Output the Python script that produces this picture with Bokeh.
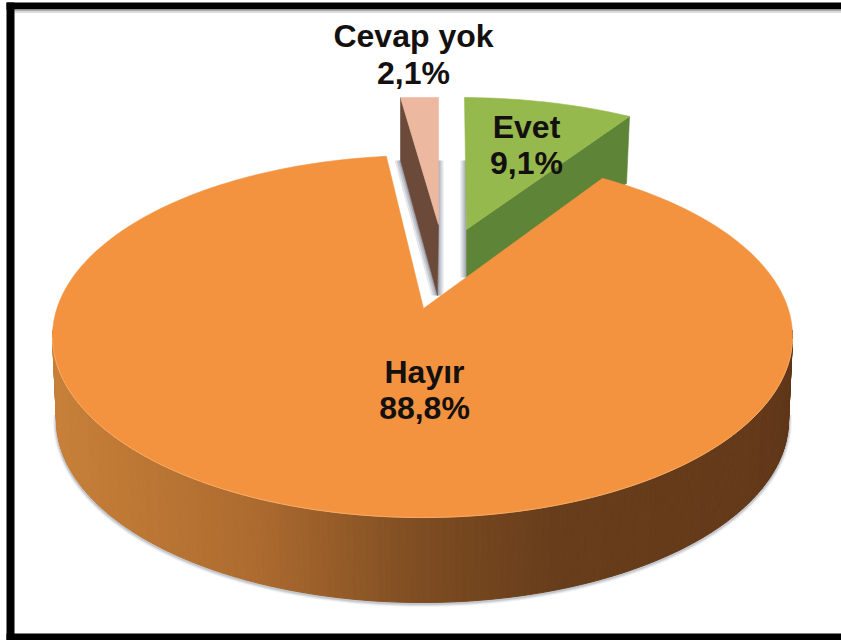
import numpy as np
from bokeh.plotting import figure
from bokeh.embed import file_html
from bokeh.resources import INLINE
from bokeh.core.properties import value

# --- data
categories = ["Evet", "Hayır", "Cevap yok"]
shares = [9.1, 88.8, 2.1]

# --- colours
top_colors = ["#96B94E", "#F39340", "#EDB8A0"]
cut_colors = ["#5E8437", None, "#6C4A3A"]
wall_x = [52, 67, 250, 420, 550, 750, 792]
wall_r = [200, 198, 174, 126, 104, 100, 96]
wall_g = [128, 127, 108, 77, 62, 58, 54]
wall_b = [58, 56, 48, 34, 28, 26, 24]

# --- layout of the drawing, in reference pixels
START = 1.0          # where the first slice begins, clockwise from the back
PERSP = 0.155        # how far the perspective pulls the apex towards the back
TOP = dict(cx=422, cy=336, rx=370, ry=181)
BOTTOM = dict(cx=422, cy=420, rx=366, ry=182)
HAYIR_APEX = (423, 308)
EVET = dict(first=(464, 97), last=(629, 116), apex=(466, 229), last_low=(626, 183), apex_low=(466, 277))
CEVAP = dict(first=(400, 97), last=(438, 97), apex=(438, 224), first_low=(400, 160), apex_low=(437, 295))

p = figure(width=841, height=640, x_range=(0, 841), y_range=(640, 0),
           toolbar_location=None, output_backend="svg", min_border=0,
           background_fill_color="white", border_fill_color="white")
p.xaxis.visible = False
p.yaxis.visible = False
p.xgrid.visible = False
p.ygrid.visible = False
p.outline_line_color = None


def rim(angles):
    a = np.radians(np.asarray(angles, dtype=float))
    x, y = np.sin(a), np.cos(a)
    den = 1 + PERSP * y
    return x * np.sqrt(1 - PERSP ** 2) / den, (y + PERSP) / den


def fitted(angles, first, last):
    u, v = rim(angles)
    su = (last[0] - first[0]) / (u[-1] - u[0])
    fy = v[-1] - v[0]
    sv = (last[1] - first[1]) / fy if abs(fy) > 1e-3 else -60.0
    return first[0] + (u - u[0]) * su, first[1] + (v - v[0]) * sv


def poly(xs, ys, color, alpha=1.0, line=True):
    p.patch(list(xs), list(ys), fill_color=color, fill_alpha=alpha,
            line_color=color if line else None, line_alpha=alpha, line_width=0.6)


degrees = [s / sum(shares) * 360 for s in shares]
a0 = START
a1 = a0 + degrees[0]
a2 = a1 + degrees[1]
a3 = a2 + degrees[2]

# --- frame (black band, thin grey line under the top one)
p.quad(left=6, right=841, top=2, bottom=9, fill_color="black", line_color=None)
p.quad(left=14, right=841, top=9, bottom=10.5, fill_color="#A8A8A8", line_color=None)
p.quad(left=14, right=841, top=10.5, bottom=12.5, fill_color="#DCDCDC", line_color=None)
p.quad(left=6, right=14, top=2, bottom=640, fill_color="black", line_color=None)
p.quad(left=6, right=841, top=633, bottom=640, fill_color="black", line_color=None)

# --- soft shadows behind the two pulled-out slices
for off, alpha in ((6, 0.18), (4, 0.25), (2, 0.35)):
    low, high = CEVAP["first_low"], CEVAP["apex_low"]
    poly([low[0] - off, low[0], high[0], high[0] - off], [low[1]] * 2 + [high[1]] * 2, "#6E7488", alpha, False)
    poly([high[0], high[0] + off, high[0] + off, high[0]], [low[1], low[1], high[1], high[1]], "#6E7488", alpha, False)
    h = EVET["apex_low"]
    poly([h[0] - off, h[0], h[0], h[0] - off], [low[1], low[1], h[1], h[1]], "#6E7488", alpha, False)

# --- Evet
arc = np.linspace(a0, a1, 40)
ex, ey = fitted(arc, EVET["first"], EVET["last"])
poly([EVET["apex"][0], EVET["last"][0], EVET["last_low"][0], EVET["apex_low"][0]],
     [EVET["apex"][1], EVET["last"][1], EVET["last_low"][1], EVET["apex_low"][1]], cut_colors[0])
poly(list(ex) + [EVET["apex"][0]], list(ey) + [EVET["apex"][1]], top_colors[0])

# --- Cevap yok
arc = np.linspace(a2, a3, 12)
cx_, cy_ = fitted(arc, CEVAP["first"], CEVAP["last"])
poly([CEVAP["first"][0], CEVAP["apex"][0], CEVAP["apex_low"][0], CEVAP["first_low"][0]],
     [CEVAP["first"][1], CEVAP["apex"][1], CEVAP["apex_low"][1], CEVAP["first_low"][1]], cut_colors[2])
poly(list(cx_) + [CEVAP["apex"][0]], list(cy_) + [CEVAP["apex"][1]], top_colors[2])

# --- Hayır: shadow under the wall, shaded wall, then the top
t = np.radians(np.linspace(88, 272, 185))
bx = BOTTOM["cx"] + BOTTOM["rx"] * np.sin(t)
by = BOTTOM["cy"] - BOTTOM["ry"] * np.cos(t)
for w, alpha in ((7, 0.08), (5, 0.12), (3, 0.2)):
    p.line(bx, by + 1, line_color="#5A6070", line_width=w, line_alpha=alpha)

tx = TOP["cx"] + TOP["rx"] * np.sin(t)
ty = TOP["cy"] - TOP["ry"] * np.cos(t)
xs, ys, cols = [], [], []
for i in range(len(t) - 1):
    xs.append([tx[i], tx[i + 1], bx[i + 1], bx[i]])
    ys.append([ty[i], ty[i + 1], by[i + 1], by[i]])
    m = (tx[i] + tx[i + 1]) / 2
    cols.append("#%02x%02x%02x" % (int(np.interp(m, wall_x, wall_r)),
                                   int(np.interp(m, wall_x, wall_g)),
                                   int(np.interp(m, wall_x, wall_b))))
p.patches(xs, ys, fill_color=cols, line_color=cols, line_width=1)

arc = np.linspace(a1, a2, 360)
u, v = rim(arc)
hx = TOP["cx"] + TOP["rx"] * u
hy = TOP["cy"] - TOP["ry"] * v
poly([HAYIR_APEX[0]] + list(hx), [HAYIR_APEX[1]] + list(hy), top_colors[1])
front = v < 0
p.line(hx[front], hy[front], line_color="#F8AC66", line_width=1)

# --- labels
label_x = [526, 424, 413]
name_y = [126, 371, 35]
pct_y = [162, 407, 72]
pcts = [f"{s:.1f}%".replace(".", ",") for s in shares]
p.text(label_x, name_y, text=categories, text_align="center", text_baseline="alphabetic",
       text_font=value("Liberation Sans"), text_font_style="bold", text_font_size="32px", text_color="#141010")
p.text(label_x, pct_y, text=pcts, text_align="center", text_baseline="alphabetic",
       text_font=value("Liberation Sans"), text_font_style="bold", text_font_size="32px", text_color="#141010")

open("out.html", "w").write(file_html(p, INLINE))
